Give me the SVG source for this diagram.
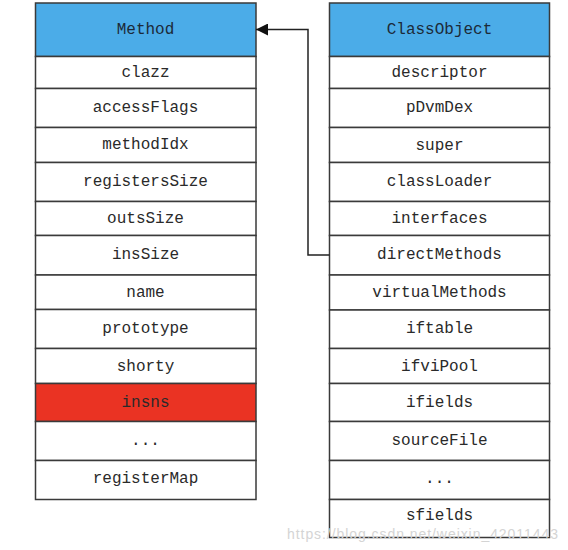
<svg xmlns="http://www.w3.org/2000/svg" width="568" height="550" viewBox="0 0 568 550">
<defs>
<style>
.row{fill:#ffffff;stroke:#3a3a3a;stroke-width:1.5}
.hdr{fill:#4BACE8;stroke:#3a3a3a;stroke-width:1.5}
.red{fill:#EA3323;stroke:#3a3a3a;stroke-width:1.5}
.t{font-family:"Liberation Mono","DejaVu Sans Mono",monospace;font-size:16px;fill:#2a2a2a;text-anchor:middle;dominant-baseline:central}
.th{fill:#1c2a38}
.conn{fill:none;stroke:#222;stroke-width:1.5}
.wm{font-family:"Liberation Sans",Arial,sans-serif;font-size:14px;fill:#d4d4d4}
</style>
<marker id="ah" viewBox="0 0 12 12" refX="12" refY="6" markerWidth="12" markerHeight="12" markerUnits="userSpaceOnUse" orient="auto">
<path d="M0,0 L12,6 L0,12 z" fill="#111"/>
</marker>
</defs>
<rect width="568" height="550" fill="#ffffff"/>
<g id="method">
<rect class="hdr" x="35.5" y="3" width="220.5" height="53.5"/>
<text class="t th" x="145.5" y="30">Method</text>
<rect class="row" x="35.5" y="56.5" width="220.5" height="32"/>
<text class="t" x="145.5" y="72.5">clazz</text>
<rect class="row" x="35.5" y="88.5" width="220.5" height="39"/>
<text class="t" x="145.5" y="108">accessFlags</text>
<rect class="row" x="35.5" y="127.5" width="220.5" height="35"/>
<text class="t" x="145.5" y="145">methodIdx</text>
<rect class="row" x="35.5" y="162.5" width="220.5" height="39"/>
<text class="t" x="145.5" y="182">registersSize</text>
<rect class="row" x="35.5" y="201.5" width="220.5" height="34"/>
<text class="t" x="145.5" y="218.5">outsSize</text>
<rect class="row" x="35.5" y="235.5" width="220.5" height="39.5"/>
<text class="t" x="145.5" y="255">insSize</text>
<rect class="row" x="35.5" y="275" width="220.5" height="34.5"/>
<text class="t" x="145.5" y="293">name</text>
<rect class="row" x="35.5" y="309.5" width="220.5" height="39"/>
<text class="t" x="145.5" y="329">prototype</text>
<rect class="row" x="35.5" y="348.5" width="220.5" height="35"/>
<text class="t" x="145.5" y="366.5">shorty</text>
<rect class="red" x="35.5" y="383.5" width="220.5" height="38"/>
<text class="t" x="145.5" y="402.5">insns</text>
<rect class="row" x="35.5" y="421.5" width="220.5" height="39"/>
<text class="t" x="145.5" y="441">...</text>
<rect class="row" x="35.5" y="460.5" width="220.5" height="39"/>
<text class="t" x="145.5" y="479">registerMap</text>
</g>
<g id="classobject">
<rect class="hdr" x="329.5" y="3" width="220" height="53.5"/>
<text class="t th" x="439.5" y="30">ClassObject</text>
<rect class="row" x="329.5" y="56.5" width="220" height="32"/>
<text class="t" x="439.5" y="72.5">descriptor</text>
<rect class="row" x="329.5" y="88.5" width="220" height="39"/>
<text class="t" x="439.5" y="108">pDvmDex</text>
<rect class="row" x="329.5" y="127.5" width="220" height="35"/>
<text class="t" x="439.5" y="146">super</text>
<rect class="row" x="329.5" y="162.5" width="220" height="39"/>
<text class="t" x="439.5" y="182">classLoader</text>
<rect class="row" x="329.5" y="201.5" width="220" height="34"/>
<text class="t" x="439.5" y="219">interfaces</text>
<rect class="row" x="329.5" y="235.5" width="220" height="39.5"/>
<text class="t" x="439.5" y="255">directMethods</text>
<rect class="row" x="329.5" y="275" width="220" height="35"/>
<text class="t" x="439.5" y="293">virtualMethods</text>
<rect class="row" x="329.5" y="310" width="220" height="38.5"/>
<text class="t" x="439.5" y="329">iftable</text>
<rect class="row" x="329.5" y="348.5" width="220" height="35"/>
<text class="t" x="439.5" y="366.5">ifviPool</text>
<rect class="row" x="329.5" y="383.5" width="220" height="38"/>
<text class="t" x="439.5" y="402.5">ifields</text>
<rect class="row" x="329.5" y="421.5" width="220" height="39"/>
<text class="t" x="439.5" y="441">sourceFile</text>
<rect class="row" x="329.5" y="460.5" width="220" height="39"/>
<text class="t" x="439.5" y="479">...</text>
<rect class="row" x="329.5" y="499.5" width="220" height="38"/>
<text class="t" x="439.5" y="515.5">sfields</text>
</g>
<g id="connectors">
<path class="conn" d="M329.5,255 L308,255 L308,29.5 L256,29.5" marker-end="url(#ah)"/>
</g>
<text class="wm" x="287" y="539" textLength="271">https://blog.csdn.net/weixin_42011443</text>
</svg>
